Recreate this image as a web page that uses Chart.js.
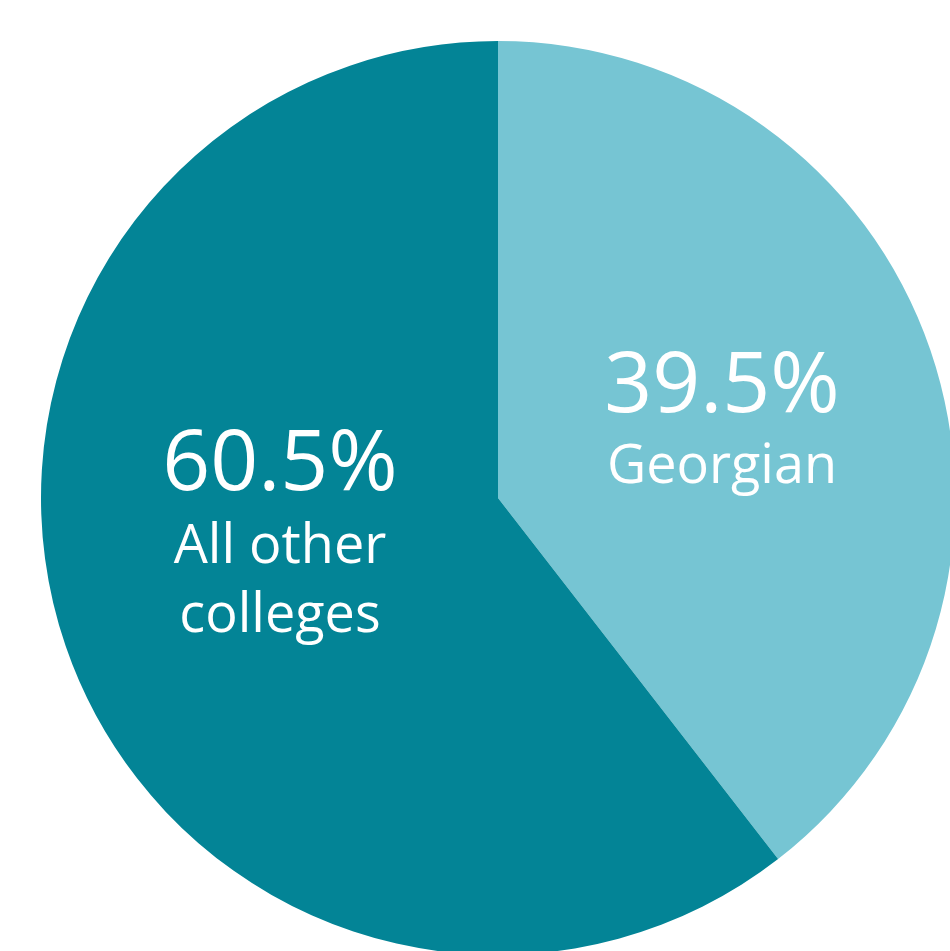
<!DOCTYPE html>
<html>
<head>
<meta charset="utf-8">
<script src="https://cdn.jsdelivr.net/npm/chart.js@4"></script>
<style>
  html, body { margin:0; padding:0; background:#fff; overflow:hidden; }
  #wrap { position:absolute; left:0; top:0; width:996px; height:996px; }
</style>
</head>
<body>
<div id="wrap"><canvas id="pie"></canvas></div>
<script>
// data
const categories = ['Georgian', 'All other colleges']
const shares = [39.5, 60.5]
const labelLines = [['Georgian'], ['All other', 'colleges']]
const colours = ['#76c5d3', '#038496']

// labels drawn inside each slice
const sliceLabels = {
  id: 'sliceLabels',
  afterDatasetsDraw(chart){
    const ctx = chart.ctx
    const arcs = chart.getDatasetMeta(0).data
    // offsets from the pie centre: [dx, baselines...]
    const place = [
      { dx: 224, pct: -86, lines: [-15] },
      { dx: -218, pct: -8, lines: [65, 134] }
    ]
    ctx.save()
    ctx.fillStyle = '#ffffff'
    ctx.textAlign = 'center'
    ctx.textBaseline = 'alphabetic'
    arcs.forEach((arc, i) => {
      const p = place[i]
      ctx.font = '84px "Open Sans"'
      ctx.fillText(shares[i] + '%', arc.x + p.dx, arc.y + p.pct)
      ctx.font = '54px "Open Sans"'
      labelLines[i].forEach((t, j) => {
        ctx.fillText(t, arc.x + p.dx, arc.y + p.lines[j])
      })
    })
    ctx.restore()
  }
}

new Chart(document.getElementById('pie'), {
  type: 'pie',
  data: {
    labels: categories,
    datasets: [{
      data: shares,
      backgroundColor: colours,
      borderWidth: 0
    }]
  },
  options: {
    responsive: true,
    maintainAspectRatio: false,
    animation: false,
    layout: { padding: 41 },
    plugins: {
      legend: { display: false },
      tooltip: { enabled: false }
    }
  },
  plugins: [sliceLabels]
})
</script>
</body>
</html>
